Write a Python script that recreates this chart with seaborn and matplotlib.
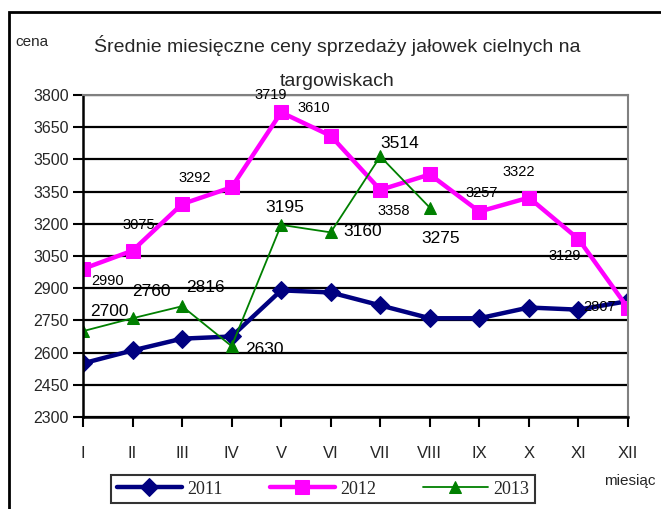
import pandas as pd
import matplotlib
matplotlib.use("Agg")
import matplotlib.pyplot as plt
import seaborn as sns
from matplotlib.patches import Rectangle

# Chart data
months = ["I", "II", "III", "IV", "V", "VI", "VII", "VIII", "IX", "X", "XI", "XII"]
ceny_2011 = [2550, 2610, 2665, 2675, 2890, 2880, 2820, 2760, 2760, 2810, 2800, 2840]
ceny_2012 = [2990, 3075, 3292, 3370, 3719, 3610, 3358, 3430, 3257, 3322, 3129, 2807]
ceny_2013 = [2700, 2760, 2816, 2630, 3195, 3160, 3514, 3275]
labels_2012 = ["2990", "3075", "3292", "", "3719", "3610", "3358", "", "3257", "3322", "3129", "2807"]
labels_2013 = ["2700", "2760", "2816", "2630", "3195", "3160", "3514", "3275"]

# label offsets in pixels (style only)
off_2012 = [(25, -12), (6, 26), (13, 26), (0, 0), (-10, 17), (-17, 28), (13, -21), (0, 0),
            (2, 19), (-10, 26), (-14, -17), (-28, 1)]
off_2013 = [(26, 20), (19, 27), (23, 19), (33, -3), (4, 17), (32, 1), (19, 13), (11, -31)]

sns.set_theme(style="white")
plt.rcParams['font.family'] = ['Liberation Sans Narrow', 'Liberation Sans', 'DejaVu Sans']

fig = plt.figure(figsize=(6.61, 5.09), dpi=100)
ax = fig.add_axes([83 / 661, 92 / 509, 545 / 661, 322 / 509])

df11 = pd.DataFrame({"miesiac": months, "cena": ceny_2011})
df12 = pd.DataFrame({"miesiac": months, "cena": ceny_2012})
df13 = pd.DataFrame({"miesiac": months[:len(ceny_2013)], "cena": ceny_2013})

sns.lineplot(data=df11, x="miesiac", y="cena", ax=ax, color="#000080", linewidth=3.2,
             marker="D", markersize=9, markeredgecolor="#000080", label="2011", sort=False)
sns.lineplot(data=df12, x="miesiac", y="cena", ax=ax, color="#FF00FF", linewidth=3.2,
             marker="s", markersize=10, markeredgecolor="#FF00FF", label="2012", sort=False)
sns.lineplot(data=df13, x="miesiac", y="cena", ax=ax, color="#008000", linewidth=1.3,
             marker="^", markersize=9, markeredgecolor="#008000", label="2013", sort=False)

for i, (v, t) in enumerate(zip(ceny_2012, labels_2012)):
    if t:
        ax.annotate(t, (i, v), xytext=off_2012[i], textcoords="offset pixels",
                    ha="center", va="center", fontsize=10.5, color="black", annotation_clip=False)
for i, (v, t) in enumerate(zip(ceny_2013, labels_2013)):
    ax.annotate(t, (i, v), xytext=off_2013[i], textcoords="offset pixels",
                ha="center", va="center", fontsize=12.5, color="black", annotation_clip=False)

ax.set_xlim(0, 11)
ax.set_ylim(2300, 3800)
ax.set_yticks(range(2300, 3801, 150))
ax.yaxis.grid(True, color="black", linewidth=1.6)
ax.set_axisbelow(True)
ax.set_xlabel("")
ax.set_ylabel("")
ax.tick_params(axis="x", direction="out", length=7, width=1.5, pad=14, labelsize=12, color="black", bottom=True)
ax.tick_params(axis="y", direction="out", length=7, width=1.5, pad=3, labelsize=11.5, color="black", left=True)
for s in ["left", "bottom"]:
    ax.spines[s].set_color("black")
    ax.spines[s].set_linewidth(1.8)
for s in ["top", "right"]:
    ax.spines[s].set_color("#808080")
    ax.spines[s].set_linewidth(1.5)

ax.legend_.remove()
handles, labs = ax.get_legend_handles_labels()
leg = fig.legend(handles, labs, loc="center", bbox_to_anchor=(323 / 661, 1 - 489 / 509), ncol=3,
                 frameon=True, fancybox=False, edgecolor="black", handlelength=3.6,
                 columnspacing=2.6, borderpad=0.3, handletextpad=0.3,
                 prop={"family": "Liberation Serif", "size": 13})
leg.get_frame().set_linewidth(1.5)

fig.text(337 / 661, 1 - 45 / 509, "Średnie miesięczne ceny sprzedaży jałowek cielnych na",
         ha="center", va="center", fontsize=14)
fig.text(337 / 661, 1 - 81 / 509, "targowiskach", ha="center", va="center", fontsize=14)
fig.text(15 / 661, 1 - 42 / 509, "cena", ha="left", va="center", fontsize=11)
fig.text(604 / 661, 1 - 481 / 509, "miesiąc", ha="left", va="center", fontsize=11)

fig.patches.append(Rectangle((9 / 661, -0.02), 1.0, 1 - 12 / 509 + 0.02, transform=fig.transFigure,
                             fill=False, edgecolor="black", linewidth=2, zorder=0))

plt.savefig("out.png", dpi=100)
